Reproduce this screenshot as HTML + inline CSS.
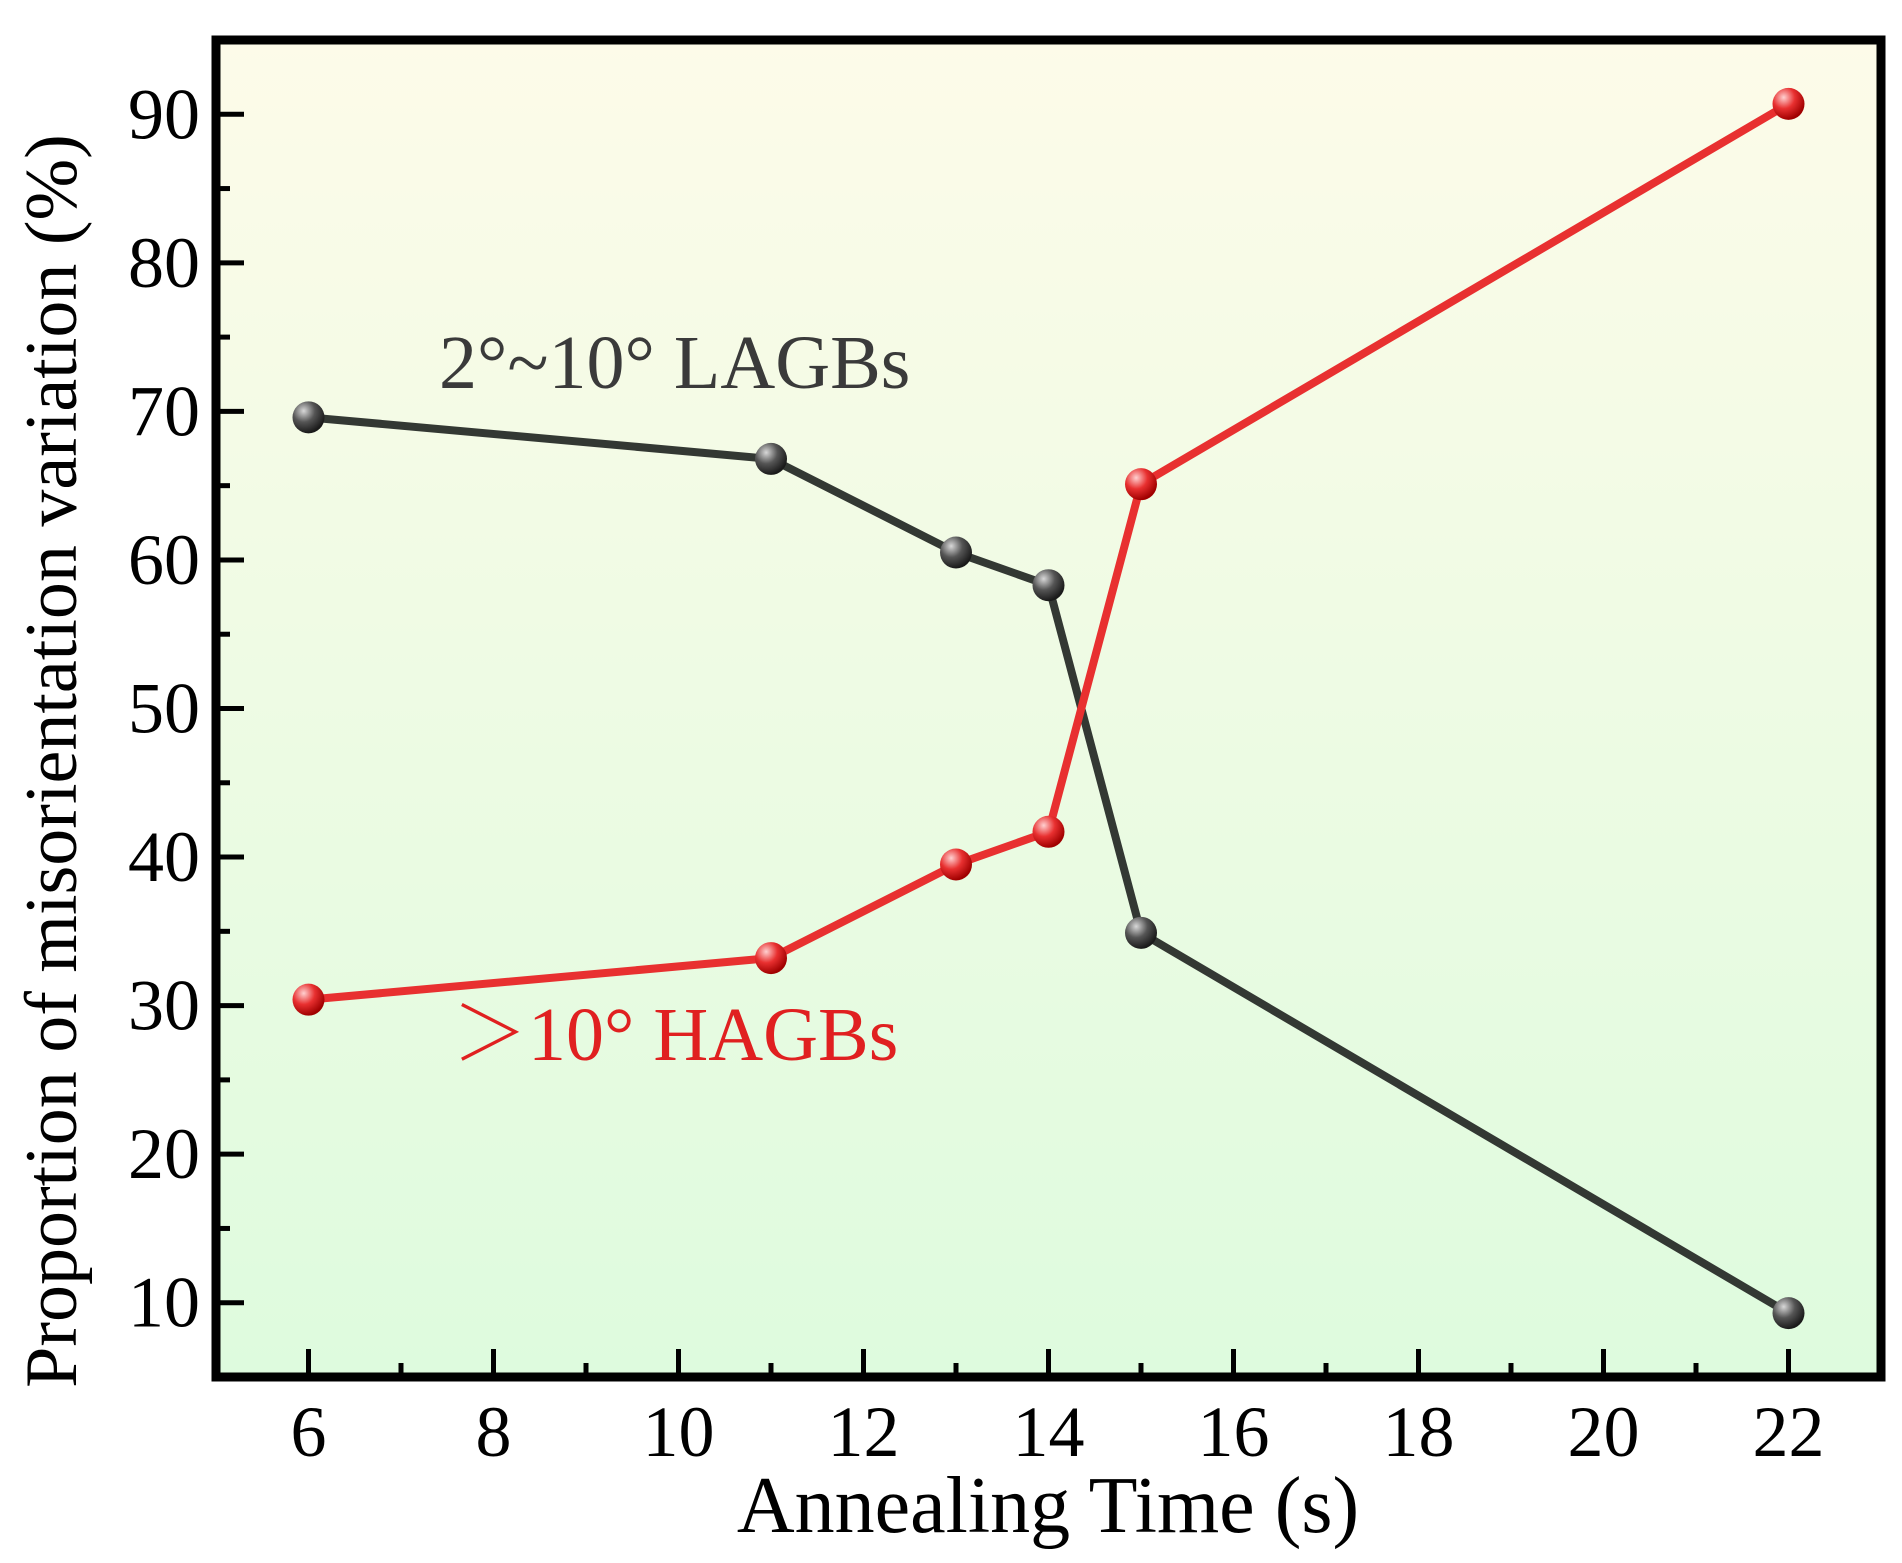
<!DOCTYPE html>
<html><head><meta charset="utf-8"><style>
html,body{margin:0;padding:0;background:#fff;}
svg{display:block;font-family:"Liberation Serif","Noto Serif CJK SC",serif;}
</style></head><body>
<svg id="chart" width="1902" height="1563" viewBox="0 0 1902 1563" xmlns="http://www.w3.org/2000/svg">
<defs>
<linearGradient id="bg" x1="0" y1="0" x2="0" y2="1">
<stop offset="0" stop-color="#fdfbe9"/><stop offset="1" stop-color="#defbde"/>
</linearGradient>
<radialGradient id="gk" cx="0.35" cy="0.3" r="0.7">
<stop offset="0" stop-color="#d8d8d8"/><stop offset="0.5" stop-color="#555"/><stop offset="1" stop-color="#1a1a1a"/>
</radialGradient>
<radialGradient id="gr" cx="0.35" cy="0.3" r="0.7">
<stop offset="0" stop-color="#ffd0d0"/><stop offset="0.5" stop-color="#e83030"/><stop offset="1" stop-color="#a00000"/>
</radialGradient>
</defs>
<rect x="216" y="40" width="1665" height="1337" fill="url(#bg)"/>
<g id="ticks"></g>
<g id="series"></g>
<rect x="216" y="40" width="1665" height="1337" fill="none" stroke="#000" stroke-width="9"/>
<text x="439" y="388" font-size="76" fill="#3a3a3a">2°~10° LAGBs</text>
<text x="452" y="1060" font-size="76" fill="#e02020">＞10° HAGBs</text>
<text x="1048" y="1532" font-size="80" text-anchor="middle">Annealing Time (s)</text>
<text transform="translate(76,761) rotate(-90)" font-size="74" text-anchor="middle">Proportion of misorientation variation (%)</text>
</svg>
<script>
const xTimes = [6, 11, 13, 14, 15, 22];
const lagbValues = [69.6, 66.8, 60.5, 58.3, 34.9, 9.3];
const hagbValues = [30.4, 33.2, 39.5, 41.7, 65.1, 90.7];
const xTickLabels = [6, 8, 10, 12, 14, 16, 18, 20, 22];
const yTickLabels = [10, 20, 30, 40, 50, 60, 70, 80, 90];

const L = 216, R = 1881, T = 40, B = 1377;
const xMin = 5, xMax = 23, yMin = 5, yMax = 95;
function sx(v){ return L + (v - xMin) / (xMax - xMin) * (R - L); }
function sy(v){ return B - (v - yMin) / (yMax - yMin) * (B - T); }
const NS = "http://www.w3.org/2000/svg";
function mk(tag, attrs, parent){ const e = document.createElementNS(NS, tag); for (const k in attrs) e.setAttribute(k, attrs[k]); parent.appendChild(e); return e; }
const tg = document.getElementById('ticks');
for (let v = 6; v <= 22; v++) {
  const major = v % 2 === 0;
  const t = mk('line', {x1: sx(v), x2: sx(v), y1: B, y2: B - (major ? 28 : 14), stroke: '#000', 'stroke-width': 5}, tg);
  
  
}
for (let v = 10; v <= 90; v += 5) {
  const major = v % 10 === 0;
  const t = mk('line', {x1: L, x2: L + (major ? 28 : 14), y1: sy(v), y2: sy(v), stroke: '#000', 'stroke-width': 5}, tg);
  
  
}
xTickLabels.forEach(v => {
  const t = mk('text', {x: sx(v), y: 1456, 'font-size': 72, 'text-anchor': 'middle'}, tg);
  t.textContent = v;
  
  
});
yTickLabels.forEach(v => {
  const t = mk('text', {x: 200, y: sy(v) + 24, 'font-size': 72, 'text-anchor': 'end'}, tg);
  t.textContent = v;
  
  
});
const sg = document.getElementById('series');
function drawSeries(vals, color, grad, name){
  const pts = xTimes.map((x, i) => sx(x) + ',' + sy(vals[i])).join(' ');
  const pl = mk('polyline', {points: pts, fill: 'none', stroke: color, 'stroke-width': 8, 'stroke-linejoin': 'round'}, sg);
  
  
  xTimes.forEach((x, i) => {
    const c = mk('circle', {cx: sx(x), cy: sy(vals[i]), r: 16, fill: 'url(#' + grad + ')'}, sg);
    
    
  });
}
drawSeries(lagbValues, '#333833', 'gk', 'lagbs');
drawSeries(hagbValues, '#e83030', 'gr', 'hagbs');
</script>
</body></html>
